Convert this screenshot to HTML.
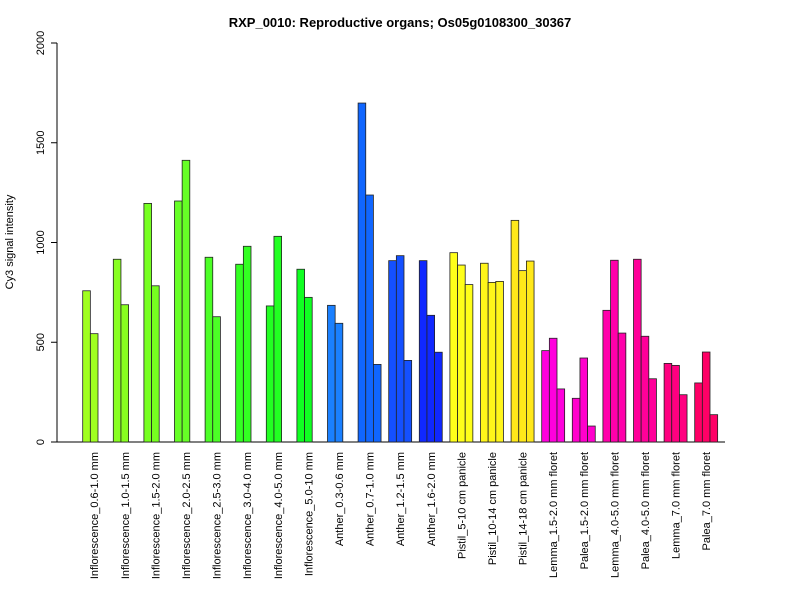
<!DOCTYPE html>
<html><head><meta charset="utf-8"><style>
body{margin:0;background:#fff;}
svg{display:block;font-family:"Liberation Sans",Arial,sans-serif;}
</style></head><body>
<svg id="chart" width="800" height="600" xmlns="http://www.w3.org/2000/svg">
<text x="400" y="27" text-anchor="middle" font-size="13" font-weight="bold">RXP_0010: Reproductive organs; Os05g0108300_30367</text>
<text transform="translate(13,242) rotate(-90)" text-anchor="middle" font-size="11">Cy3 signal intensity</text>
<g id="yaxis"></g>
<g id="bars"></g>
<g id="xlabels"></g>
</svg>
<script>
const categories = ["Inflorescence_0.6-1.0 mm","Inflorescence_1.0-1.5 mm","Inflorescence_1.5-2.0 mm","Inflorescence_2.0-2.5 mm","Inflorescence_2.5-3.0 mm","Inflorescence_3.0-4.0 mm","Inflorescence_4.0-5.0 mm","Inflorescence_5.0-10 mm","Anther_0.3-0.6 mm","Anther_0.7-1.0 mm","Anther_1.2-1.5 mm","Anther_1.6-2.0 mm","Pistil_5-10 cm panicle","Pistil_10-14 cm panicle","Pistil_14-18 cm panicle","Lemma_1.5-2.0 mm floret","Palea_1.5-2.0 mm floret","Lemma_4.0-5.0 mm floret","Palea_4.0-5.0 mm floret","Lemma_7.0 mm floret","Palea_7.0 mm floret"];
const rep1 = [758,916,1196,1208,926,891,682,866,685,1699,909,909,949,896,1111,458,219,660,916,394,296];
const rep2 = [543,688,783,1412,628,981,1031,725,595,1238,934,635,887,800,859,520,421,911,530,384,451];
const rep3 = [null,null,null,null,null,null,null,null,null,389,409,450,789,805,907,266,80,546,317,237,137];
const colors = ["#a0ff20","#88ff20","#76ff20","#66ff26","#4cff26","#33ff22","#22ff22","#10ff22","#1a80ff","#1066ff","#1450ff","#1028ff","#ffff1a","#fff51a","#ffe81a","#ff00dd","#ff00cc","#ff00aa","#ff0099","#ff0080","#ff0066"];
const yTicks = [0,500,1000,1500,2000];
const NS="http://www.w3.org/2000/svg";
const y0=442, yTop=43, yMax=2000;
function yScale(v){return y0-(v/yMax)*(y0-yTop);}
const groupStart0=82.7, groupStep=30.6, barW=7.65;
function xScale(g,b){return groupStart0+g*groupStep+b*barW;}
const ya=document.getElementById('yaxis');
let l=document.createElementNS(NS,'line');
l.setAttribute('x1',57);l.setAttribute('x2',57);l.setAttribute('y1',yScale(0));l.setAttribute('y2',yScale(yMax));l.setAttribute('stroke','#000');


ya.appendChild(l);
yTicks.forEach(t=>{
 const tk=document.createElementNS(NS,'line');
 tk.setAttribute('x1',51);tk.setAttribute('x2',57);tk.setAttribute('y1',yScale(t));tk.setAttribute('y2',yScale(t));tk.setAttribute('stroke','#000');
 
 
 ya.appendChild(tk);
 const tx=document.createElementNS(NS,'text');
 tx.setAttribute('transform','translate(44,'+yScale(t)+') rotate(-90)');
 tx.setAttribute('text-anchor','middle');tx.setAttribute('font-size','11');
 tx.textContent=t;
 
 
 ya.appendChild(tx);
});
const base=document.createElementNS(NS,'line');
base.setAttribute('x1',57);base.setAttribute('x2',725);base.setAttribute('y1',y0);base.setAttribute('y2',y0);base.setAttribute('stroke','#000');


ya.appendChild(base);
const bg=document.getElementById('bars');
const xl=document.getElementById('xlabels');
categories.forEach((c,g)=>{
 [rep1[g],rep2[g],rep3[g]].forEach((v,b)=>{
  if(v===null||v===undefined)return;
  const r=document.createElementNS(NS,'rect');
  r.setAttribute('x',xScale(g,b));r.setAttribute('width',barW);
  r.setAttribute('y',yScale(v));r.setAttribute('height',y0-yScale(v));
  r.setAttribute('fill',colors[g]);r.setAttribute('stroke','#222');r.setAttribute('stroke-width','0.8');
  
  
  bg.appendChild(r);
 });
 const cx=xScale(g,1.5)+4;
 const t=document.createElementNS(NS,'text');
 t.setAttribute('transform','translate('+cx+',452) rotate(-90)');
 t.setAttribute('text-anchor','end');t.setAttribute('font-size','11');
 t.textContent=c;
 
 
 xl.appendChild(t);
});
</script>
</body></html>
